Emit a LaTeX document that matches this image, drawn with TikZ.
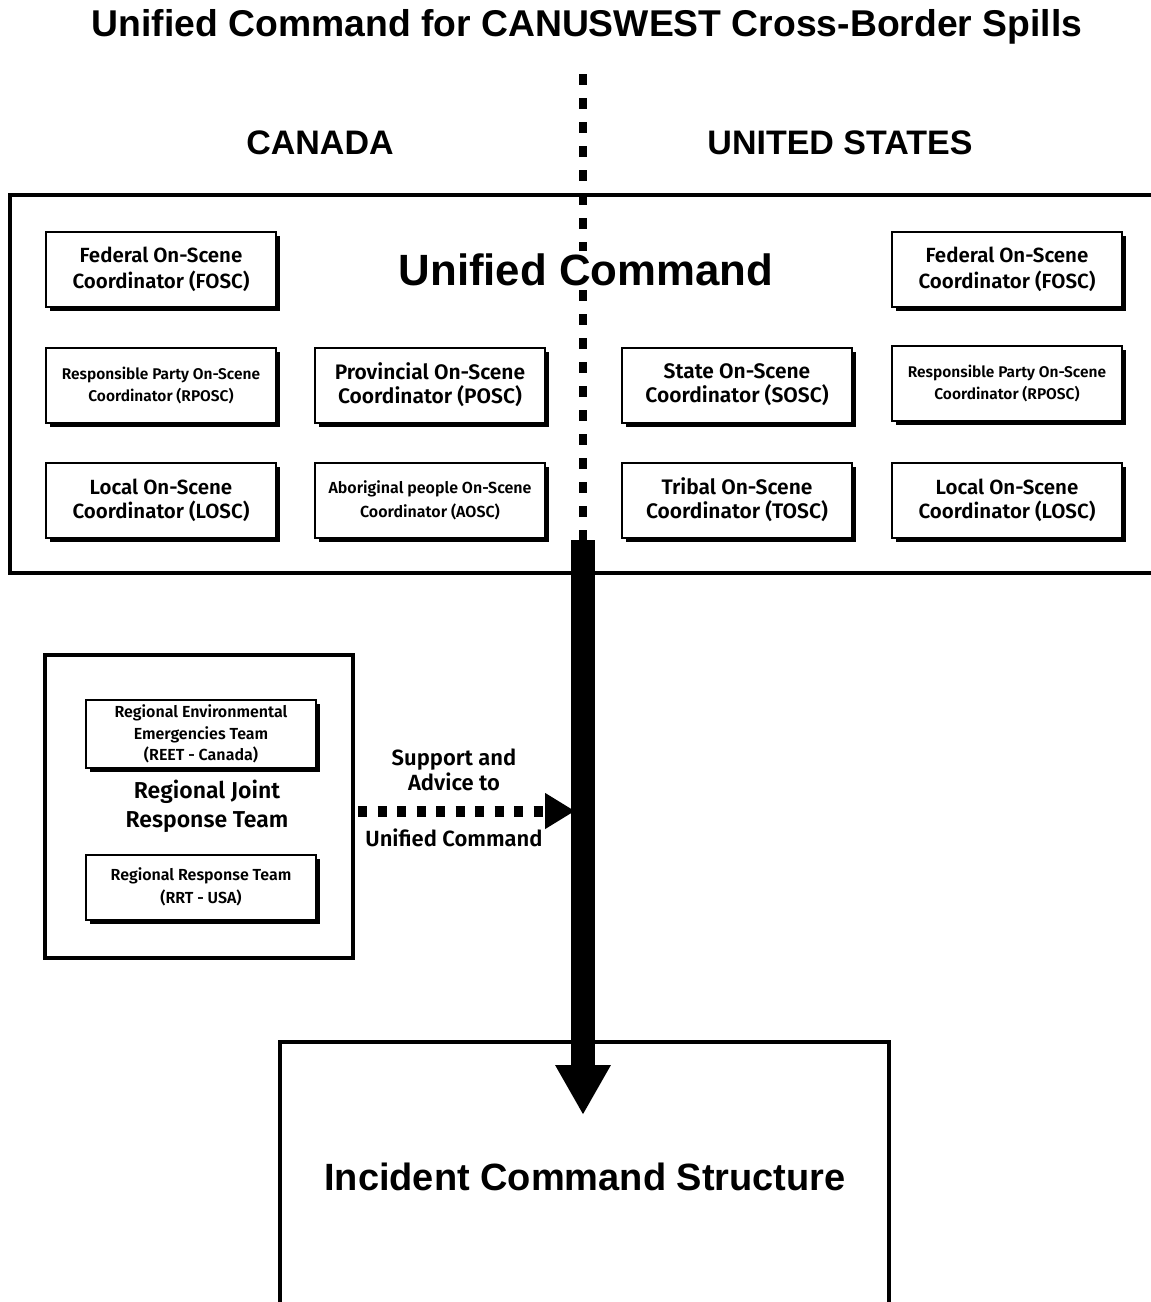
\documentclass[tikz,border=0pt]{standalone}
\usepackage{fontspec}
\setmainfont{Fira Sans}[BoldFont={Fira Sans SemiBold}]
\newfontfamily\arialb{Liberation Sans}
\usetikzlibrary{arrows.meta,shadows}
\newcommand{\fs}[2]{\fontsize{#1}{#2}\selectfont\bfseries}
\newcommand{\hs}[1]{\arialb\fontsize{#1}{#1}\selectfont\bfseries}
\begin{document}
\begin{tikzpicture}[x=1pt,y=-1pt,
  coordbox/.style={draw=black,line width=2pt,fill=white,align=center,inner sep=2pt,
    minimum width=230pt,minimum height=75pt,
    drop shadow={shadow xshift=4pt,shadow yshift=-4pt,fill=black,opacity=1}},
  bigframe/.style={draw=black,line width=4pt},
  lbl/.style={align=center,inner sep=0pt}
]
\useasboundingbox[fill=white] (0,0) rectangle (1151,1302);

% title and country headings
\node[lbl,font=\hs{37.3}] (title) at (587,27) {Unified Command for CANUSWEST Cross-Border Spills};
\node[lbl,font=\hs{34}] (canada) at (320,143) {CANADA};
\node[lbl,font=\hs{34}] (usa) at (840,143) {UNITED STATES};

% unified command frame
\node[bigframe,minimum width=1160pt,minimum height=378pt,inner sep=0pt] (uc) at (590,384) {};

% border line
\coordinate (bordertop) at (583,74);
\coordinate (borderbot) at (583,540);
\draw[line width=8pt,dash pattern=on 11pt off 13pt] (bordertop) -- (borderbot);

\node[lbl,fill=white,inner sep=3pt,font=\hs{43.8}] (uctext) at (586,270) {Unified Command};

% canada column boxes
\node[coordbox,font=\fs{20.5}{26}] (cfosc) at (161,269) {Federal On-Scene\\Coordinator (FOSC)};
\node[coordbox,font=\fs{15.5}{22}] (crposc) at (161,385) {Responsible Party On-Scene\\Coordinator (RPOSC)};
\node[coordbox,font=\fs{20.5}{24}] (closc) at (161,500) {Local On-Scene\\Coordinator (LOSC)};
\node[coordbox,font=\fs{21}{24}] (posc) at (430,385) {Provincial On-Scene\\Coordinator (POSC)};
\node[coordbox,font=\fs{16}{24}] (aosc) at (430,500) {Aboriginal people On-Scene\\Coordinator (AOSC)};

% us column boxes
\node[coordbox,font=\fs{21}{24}] (sosc) at (737,385) {State On-Scene\\Coordinator (SOSC)};
\node[coordbox,font=\fs{21}{24}] (tosc) at (737,500) {Tribal On-Scene\\Coordinator (TOSC)};
\node[coordbox,font=\fs{20.5}{26}] (ufosc) at (1007,269) {Federal On-Scene\\Coordinator (FOSC)};
\node[coordbox,font=\fs{15.5}{22}] (urposc) at (1007,383) {Responsible Party On-Scene\\Coordinator (RPOSC)};
\node[coordbox,font=\fs{20.5}{24}] (ulosc) at (1007,500) {Local On-Scene\\Coordinator (LOSC)};

% regional joint response team
\node[bigframe,minimum width=308pt,minimum height=303pt,inner sep=0pt] (rjrt) at (199,806) {};
\node[coordbox,minimum height=68pt,font=\fs{16}{21.5}] (reet) at (201,734) {Regional Environmental\\Emergencies Team\\(REET - Canada)};
\node[coordbox,minimum height=65pt,font=\fs{16}{23}] (rrt) at (201,887) {Regional Response Team\\(RRT - USA)};
\node[lbl,font=\fs{23}{29}] (rjrttext) at (207,806) {Regional Joint\\Response Team};

% support arrow
\node[lbl,font=\fs{22}{25}] (supp) at (454,770) {Support and\\Advice to};
\node[lbl,font=\fs{22}{25}] (supp2) at (454,838) {Unified Command};
\coordinate (suppstart) at (358,811);
\coordinate (suppend) at (575,811);
\draw[line width=11pt,dash pattern=on 9pt off 10.5pt,-{Triangle[length=30pt,width=34pt]}] (suppstart) -- (suppend);

% incident command structure
\node[bigframe,minimum width=609pt,minimum height=300pt,inner sep=0pt,anchor=north west] (ics) at (278,1040) {};
\node[lbl,font=\hs{38}] (icstext) at (585,1177) {Incident Command Structure};

% main arrow
\coordinate (arrtop) at (583,540);
\coordinate (arrtip) at (583,1115);
\draw[line width=24pt,-{Triangle[length=50pt,width=52pt]}] (arrtop) -- (arrtip);
\end{tikzpicture}
\end{document}
